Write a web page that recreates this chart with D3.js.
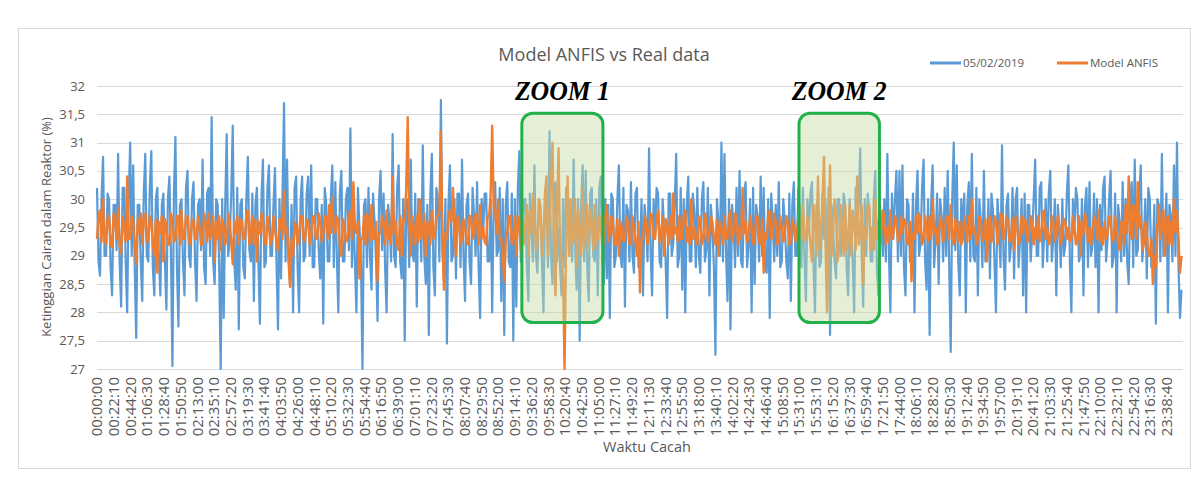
<!DOCTYPE html>
<html>
<head>
<meta charset="utf-8">
<script src="https://cdn.jsdelivr.net/npm/d3@7"></script>
<style>
  body { margin: 0; background: #fff; }
  text { font-family: "Open Sans", "Liberation Sans", sans-serif; fill: #595959; }
</style>
</head>
<body>
<div id="chart"></div>
<script>
// ===========================================================
// DATA (one sample every 120 s)
// ===========================================================
var sampleStep = 120;

var realData = [
    30.2, 28.9, 28.65, 30.0, 30.75, 29.0, 29.0, 30.1, 30.0, 28.8, 28.3, 29.9, 29.9, 29.1, 30.8, 28.9, 28.1, 30.2, 30.2, 28.9,
    28.0, 30.0, 31.0, 29.0, 30.6, 28.8, 27.55, 29.9, 29.9, 28.9, 28.2, 30.1, 30.8, 29.0, 28.9, 30.2, 30.85, 28.8, 28.3, 30.0,
    30.2, 29.0, 28.3, 29.9, 30.1, 28.9, 28.05, 30.0, 30.4, 29.1, 27.05, 30.1, 31.1, 28.8, 27.75, 29.9, 30.0, 28.9, 28.3, 30.2,
    30.5, 29.0, 28.8, 30.0, 30.3, 28.9, 28.2, 29.9, 30.0, 29.1, 30.7, 28.8, 28.5, 30.1, 30.2, 29.0, 31.45, 28.9, 28.5, 30.0,
    29.9, 28.8, 27.0, 30.0, 27.9, 29.9, 31.15, 29.0, 29.3, 30.1, 31.3, 28.9, 28.4, 30.2, 27.7, 29.9, 30.0, 28.8, 28.6, 30.0,
    30.75, 29.1, 28.9, 30.1, 28.2, 29.9, 30.2, 28.9, 27.8, 30.0, 30.7, 28.8, 28.9, 30.2, 30.6, 29.0, 29.0, 29.9, 30.55, 28.9,
    27.7, 30.0, 28.6, 30.1, 31.7, 28.9, 30.7, 29.0, 28.5, 29.9, 28.0, 30.2, 30.4, 28.8, 28.0, 30.0,
    30.4, 28.9, 29.0, 30.1, 30.4, 29.0, 30.6, 28.8, 28.8, 30.0, 30.0, 29.1, 28.6, 29.9, 27.8, 30.2, 29.9, 28.9, 28.9, 30.0,
    30.6, 28.8, 30.3, 29.0, 28.0, 30.1, 30.5, 28.9, 28.9, 30.0, 30.2, 29.1, 31.25, 28.8, 29.8, 28.9, 28.0, 30.2, 29.5, 28.9,
    27.0, 29.9, 30.0, 28.8, 30.2, 29.0, 28.4, 30.1, 29.6, 28.9, 27.85, 30.0, 30.5, 29.1, 30.1, 28.8, 28.0, 29.9, 29.6, 28.9,
    31.15, 29.0, 28.8, 30.2, 30.6, 28.9, 28.6, 30.0, 27.5, 29.9, 30.0, 28.8, 30.7, 29.1, 28.9, 30.1, 28.1, 30.0, 29.8, 28.9,
    30.95, 29.0, 28.5, 29.9, 27.6, 30.1, 30.8, 28.8, 28.3, 30.2, 30.0, 28.9, 31.75, 29.1, 28.6, 30.0, 27.45, 29.9, 30.6, 28.9,
    29.0, 30.0, 28.6, 30.1, 30.1, 28.8, 30.7, 29.0, 28.2, 29.9, 30.1, 28.9, 28.5, 30.2, 29.7, 29.0, 30.3, 28.8, 27.9, 30.0,
    29.4, 30.1, 30.1, 28.9, 28.9, 30.0, 28.0, 29.9, 30.3, 29.0, 29.1, 30.2, 28.2, 30.0, 27.6, 29.9, 30.3, 28.9, 28.8, 30.1,
    27.5, 30.0, 28.1, 30.2, 30.85, 28.9, 29.4, 30.0, 30.0, 28.8, 28.2, 30.1, 29.5, 28.9, 30.6, 29.0, 28.7, 30.0, 29.8, 28.9,
    28.0, 29.9, 30.0, 28.8, 31.2, 29.0, 28.5, 30.1, 30.3, 28.9, 29.5, 28.8, 28.3, 30.0, 28.8, 30.2, 30.2, 29.0, 29.6, 28.9,
    30.7, 29.1, 28.4, 30.0, 27.5, 29.9, 30.6, 28.9, 30.5, 28.8, 28.2, 30.1, 30.2, 29.0, 28.9, 30.0, 28.3, 30.2,
    30.4, 28.9, 28.5, 30.0, 28.6, 29.9, 27.9, 30.1, 30.0, 28.8, 29.0, 30.0, 30.6, 29.0, 28.8, 30.2, 28.1, 29.9, 29.8, 28.9,
    30.3, 29.0, 28.7, 30.1, 30.2, 28.8, 29.0, 30.0, 28.3, 29.9, 29.6, 28.9, 30.9, 29.1, 28.3, 30.0, 29.4, 30.2, 30.1, 28.9,
    28.8, 30.0, 29.5, 28.9, 27.9, 30.1, 30.1, 29.0, 29.2, 29.9, 30.8, 28.8, 29.0, 30.2, 28.4, 30.0, 28.0, 29.9, 30.4, 28.9,
    28.9, 30.1, 29.8, 28.8, 30.2, 29.0, 28.7, 30.0, 30.3, 28.9, 29.1, 30.2, 28.3, 29.9, 29.5, 28.8, 27.25, 30.0, 29.6, 29.0,
    31.0, 28.9, 30.8, 29.1, 28.2, 30.0, 27.7, 29.9, 29.6, 28.8, 30.2, 29.0, 30.5, 28.9, 28.8, 30.1, 30.3, 28.8, 29.2, 30.0,
    28.0, 30.2, 28.5, 29.9, 29.7, 28.9, 30.4, 29.0, 30.2, 28.8, 28.7, 30.0, 27.9, 30.1, 29.6, 28.9, 29.9, 29.0, 30.3, 28.8,
    28.9, 30.0, 29.6, 28.9, 28.6, 30.1, 28.2, 29.9, 30.3, 29.0, 29.0, 30.2, 29.8, 28.8, 30.2, 29.0, 28.2, 30.0, 29.4, 30.1,
    30.3, 28.9, 28.0, 29.9, 30.0, 28.8, 28.9, 30.1, 29.3, 30.0, 28.5, 30.2, 27.6, 29.9, 29.5, 28.9, 28.6, 30.0, 30.0, 29.0,
    29.2, 30.1, 29.9, 28.8, 28.3, 30.0, 29.5, 28.9, 28.0, 30.2, 29.4, 29.9, 30.9, 29.0, 28.1, 30.0, 29.0, 30.1, 29.8, 28.9,
    28.9, 30.0, 30.5, 28.8, 28.3, 29.9, 29.6, 29.0, 30.0, 28.9, 30.8, 29.1, 28.0, 30.1, 29.3, 30.0, 30.5, 28.9,
    30.5, 29.0, 30.6, 28.8, 28.3, 30.0, 29.9, 28.9, 29.0, 30.1, 28.0, 29.9, 30.5, 29.0, 29.2, 30.2, 30.7, 28.9, 28.4, 30.0,
    27.6, 29.9, 30.6, 28.8, 29.3, 30.1, 28.5, 30.0, 29.7, 28.9, 30.2, 29.0, 30.5, 28.8, 27.3, 30.0, 31.0, 29.1, 30.6, 28.9,
    28.3, 30.0, 29.4, 30.1, 28.0, 29.9, 30.3, 28.9, 30.8, 29.0, 28.9, 30.2, 28.3, 30.0, 29.6, 28.8, 30.5, 28.9, 29.0, 30.0,
    28.6, 30.1, 29.8, 28.9, 28.0, 30.0, 29.5, 28.8, 30.95, 29.0, 28.4, 29.9, 30.1, 28.9, 29.2, 30.2, 28.6, 30.0, 30.2, 28.8,
    29.3, 30.0, 28.3, 30.1, 28.0, 29.9, 29.9, 28.9, 29.4, 30.0, 30.7, 29.0, 29.0, 30.2, 30.3, 28.8, 29.4, 30.0, 28.9, 30.1,
    30.5, 28.9, 29.3, 30.0, 28.3, 29.9, 29.5, 28.8, 30.0, 29.0, 29.2, 30.1, 30.6, 28.9, 28.0, 30.0, 29.4, 30.2, 30.0, 28.9,
    29.0, 30.0, 28.3, 29.9, 30.2, 28.8, 30.3, 29.0, 29.2, 30.1, 28.8, 30.0, 28.0, 29.9, 29.1, 30.2, 30.4, 28.9, 29.3, 30.0,
    30.5, 28.8, 29.0, 30.1, 28.0, 29.9, 29.6, 28.9, 30.3, 29.0, 30.0, 28.9, 28.5, 30.0, 30.3, 28.8, 30.7, 29.0, 29.1, 30.1,
    30.6, 28.9, 29.3, 30.0, 28.6, 30.2, 30.0, 28.8, 29.0, 29.9, 27.8, 30.0, 29.9, 28.9, 30.8, 29.0, 29.4, 30.1, 28.0, 29.9,
    29.7, 28.9, 30.6, 29.0, 31.0, 28.8, 27.9, 28.4
];

var anfisData = [
    29.3, 29.7, 29.8, 29.25, 30.0, 29.3, 29.2, 29.65, 29.7, 29.2, 29.15, 29.75, 29.6, 29.3, 29.85, 29.2, 29.05, 29.7, 29.5, 29.25,
    30.4, 29.3, 29.3, 29.7, 29.6, 29.2, 28.85, 29.65, 29.4, 29.75, 29.2, 29.7, 29.75, 29.25, 29.3, 29.7, 29.6, 29.2, 29.0, 29.65,
    28.7, 29.6, 29.4, 29.7, 28.9, 29.65, 29.5, 29.2, 29.2, 29.75, 29.6, 29.25, 29.3, 29.7, 29.7, 29.2, 29.8, 29.3, 29.3, 29.7,
    29.7, 29.25, 29.2, 29.65, 29.6, 29.3, 29.3, 29.7, 29.5, 29.2, 29.2, 29.75, 29.6, 29.25, 29.75, 29.3, 29.4, 29.7, 28.9, 29.6,
    29.3, 29.7, 29.1, 29.65, 29.5, 29.2, 29.3, 29.75, 29.6, 29.25, 28.85, 29.6, 29.4, 29.7, 29.2, 29.65, 29.6, 29.3, 29.3, 29.7,
    29.8, 29.2, 29.4, 29.7, 29.2, 29.65, 28.9, 29.6, 29.4, 29.75, 29.6, 29.25, 29.2, 29.7, 29.5, 29.2, 29.3, 29.7, 29.45, 29.25,
    29.1, 29.65, 29.6, 29.3, 30.15, 29.4, 29.5, 28.9, 28.45, 29.3, 29.0, 29.6, 29.5, 29.2, 29.4, 29.7,
    29.7, 29.25, 29.3, 29.65, 29.6, 29.2, 29.35, 29.7, 29.7, 29.3, 29.3, 29.75, 29.6, 29.25, 29.4, 29.7, 29.7, 29.3, 29.9, 29.4,
    30.05, 29.5, 29.4, 29.7, 29.6, 29.2, 29.0, 29.65, 29.5, 29.25, 29.3, 29.7, 29.8, 29.3, 30.3, 29.5, 29.4, 29.6, 28.6, 29.3,
    29.3, 29.7, 29.2, 29.75, 29.6, 29.25, 29.9, 29.3, 29.3, 29.6, 28.55, 29.4, 29.4, 29.7, 29.6, 29.2, 29.8, 29.3, 29.5, 29.2,
    30.4, 29.4, 29.6, 29.2, 29.1, 29.7, 29.0, 29.65, 29.6, 30.2, 31.45, 29.6, 29.0, 29.7, 29.5, 29.2, 29.7, 29.25, 30.0, 29.3,
    29.4, 29.75, 29.0, 29.6, 29.5, 29.2, 29.8, 29.3, 29.4, 29.7, 29.7, 29.8, 31.2, 29.3, 28.4, 29.4, 29.3, 29.7, 29.8, 29.6,
    30.2, 29.4, 29.0, 29.7, 29.6, 29.2, 29.3, 29.65, 29.5, 29.25, 29.2, 29.7, 29.7, 29.3, 29.4, 29.75, 29.6, 29.2, 29.9, 29.3,
    29.5, 29.25, 29.2, 29.7, 29.7, 30.1, 31.3, 29.9, 29.8, 29.4, 30.0, 29.3, 29.3, 29.0, 28.55, 29.3, 29.4, 29.7, 29.7, 29.2,
    29.3, 29.7, 29.0, 29.7, 29.6, 29.1, 30.0, 29.2, 29.5, 29.9, 29.0, 29.8, 29.4, 30.1, 29.7, 29.1, 29.3, 30.0, 29.9, 29.0,
    29.4, 30.1, 30.4, 29.0, 29.6, 30.3, 31.0, 29.2, 28.3, 29.8, 30.9, 29.1, 29.0, 28.6, 27.0, 29.3, 30.4, 29.0, 30.0, 29.2,
    29.3, 30.0, 28.8, 29.8, 29.5, 29.0, 30.2, 29.1, 29.4, 29.9, 29.2, 29.8, 29.6, 29.1, 29.9, 29.2, 29.3, 29.7,
    29.5, 29.2, 29.2, 29.7, 29.9, 29.25, 29.4, 29.7, 29.6, 29.2, 29.2, 29.65, 29.0, 29.6, 29.5, 29.25, 29.3, 29.7, 29.6, 29.2,
    29.2, 29.7, 29.5, 29.25, 29.0, 29.6, 28.35, 29.3, 29.3, 29.7, 29.6, 29.2, 29.4, 29.75, 29.7, 29.3, 29.3, 29.65, 29.8, 29.25,
    29.4, 29.7, 29.0, 29.65, 29.5, 29.2, 29.7, 29.3, 30.1, 29.4, 29.5, 29.25, 29.7, 29.3, 29.3, 29.7, 29.8, 29.25, 29.5, 29.2,
    30.0, 29.3, 29.5, 29.25, 29.2, 29.7, 29.6, 29.2, 29.3, 29.75, 29.6, 29.25, 29.4, 29.7, 29.6, 29.3, 29.2, 29.65, 29.0, 29.6,
    29.5, 29.2, 29.7, 29.3, 29.3, 29.7, 29.8, 29.25, 29.4, 29.75, 29.7, 29.2, 29.5, 29.3, 30.2, 29.4, 29.6, 29.25, 29.3, 29.7,
    29.5, 29.2, 29.3, 29.7, 29.7, 29.25, 29.2, 29.65, 28.7, 29.4, 29.3, 29.7, 29.8, 29.3, 29.4, 29.75, 29.6, 29.2, 29.3, 29.7,
    29.5, 29.25, 29.4, 29.7, 29.6, 29.2, 29.3, 29.65, 29.5, 29.25, 29.4, 29.7, 29.7, 29.3, 29.9, 29.25, 29.3, 29.7, 29.5, 29.2,
    28.9, 29.9, 29.6, 29.0, 30.4, 29.1, 29.5, 30.0, 30.75, 29.2, 28.0, 29.4, 30.6, 29.0, 29.4, 30.0, 29.7, 28.9, 29.1, 29.9,
    29.5, 29.0, 29.9, 29.1, 29.3, 29.9, 29.0, 29.8, 29.6, 29.1, 30.4, 29.2, 29.4, 29.9, 28.5, 29.5, 29.3, 29.9, 29.9, 29.1,
    29.5, 29.1, 30.0, 29.3, 29.6, 29.2, 29.4, 29.8, 29.7, 29.2, 29.5, 29.25, 29.8, 29.3, 29.4, 29.7, 29.6, 29.25,
    29.3, 29.7, 29.4, 29.65, 29.6, 29.25, 29.2, 29.6, 28.55, 29.4, 29.3, 29.7, 29.4, 29.75, 29.6, 29.2, 29.3, 29.7, 29.5, 29.25,
    29.7, 29.3, 30.0, 29.4, 29.5, 29.2, 29.3, 29.7, 29.6, 29.25, 29.4, 29.7, 29.7, 29.3, 29.9, 29.4, 29.2, 29.65, 29.5, 29.25,
    29.6, 29.2, 29.3, 29.7, 29.5, 29.25, 29.7, 29.3, 30.0, 29.4, 29.5, 29.2, 29.3, 29.7, 29.6, 29.25, 29.3, 29.65, 28.9, 29.5,
    29.7, 29.25, 29.4, 29.7, 29.6, 29.2, 29.4, 29.75, 29.7, 29.3, 29.4, 29.7, 29.6, 29.25, 29.3, 29.65, 29.1, 29.7, 29.5, 29.2,
    29.3, 29.7, 29.4, 29.65, 29.6, 29.25, 29.4, 29.7, 29.6, 29.2, 29.5, 29.3, 29.7, 29.25, 29.4, 29.75, 29.8, 29.3, 29.5, 29.2,
    29.3, 29.7, 29.6, 29.25, 29.4, 29.7, 29.5, 29.2, 29.4, 29.65, 29.6, 29.3, 29.5, 29.25, 29.3, 29.7, 29.5, 29.2, 29.3, 29.7,
    29.0, 29.6, 29.4, 29.75, 29.6, 29.25, 29.5, 29.2, 29.4, 29.7, 29.6, 29.3, 29.8, 29.25, 29.5, 29.2, 29.6, 29.3, 29.4, 29.7,
    29.6, 29.25, 29.3, 29.7, 29.5, 29.2, 29.1, 29.6, 29.6, 29.2, 29.9, 29.4, 30.4, 29.5, 29.3, 29.9, 29.8, 29.3, 30.3, 29.5,
    29.7, 29.1, 29.2, 29.6, 29.4, 29.0, 29.0, 29.3, 28.5, 29.0, 28.8, 29.5, 29.9, 29.3, 29.5, 29.8, 29.0, 29.6, 29.7, 29.2,
    29.6, 29.2, 30.0, 29.4, 29.8, 29.3, 28.7, 29.0
];

var tickLabels = [
    "00:00:00", "00:22:10", "00:44:20", "01:06:30", "01:28:40", "01:50:50", "02:13:00", "02:35:10",
    "02:57:20", "03:19:30", "03:41:40", "04:03:50", "04:26:00", "04:48:10", "05:10:20", "05:32:30",
    "05:54:40", "06:16:50", "06:39:00", "07:01:10", "07:23:20", "07:45:30", "08:07:40", "08:29:50",
    "08:52:00", "09:14:10", "09:36:20", "09:58:30", "10:20:40", "10:42:50", "11:05:00", "11:27:10",
    "11:49:20", "12:11:30", "12:33:40", "12:55:50", "13:18:00", "13:40:10", "14:02:20", "14:24:30",
    "14:46:40", "15:08:50", "15:31:00", "15:53:10", "16:15:20", "16:37:30", "16:59:40", "17:21:50",
    "17:44:00", "18:06:10", "18:28:20", "18:50:30", "19:12:40", "19:34:50", "19:57:00", "20:19:10",
    "20:41:20", "21:03:30", "21:25:40", "21:47:50", "22:10:00", "22:32:10", "22:54:20", "23:16:30",
    "23:38:40"
];

var yTicks = [27, 27.5, 28, 28.5, 29, 29.5, 30, 30.5, 31, 31.5, 32];

var seriesNames = ["05/02/2019", "Model ANFIS"];
var seriesColors = ["#5b9bd5", "#ed7d31"];

// zoom windows: [start time, end time] in seconds, value band
var zoomBoxes = [
    { label: "ZOOM 1", t0: 33800, t1: 40250 },
    { label: "ZOOM 2", t0: 55850, t1: 62250 }
];
var zoomLow = 27.82;
var zoomHigh = 31.52;

// ===========================================================
// SET MARGINS
// ===========================================================
var svgWidth = 1202;
var svgHeight = 485;

var margin = { top: 86, right: 19, bottom: 116, left: 97 };
var width = svgWidth - margin.left - margin.right;
var height = svgHeight - margin.top - margin.bottom;

var svg = d3.select('#chart')
    .append('svg')
    .attr('width', svgWidth)
    .attr('height', svgHeight);

// chart frame
svg.append('rect')
    .attr('x', 18.5).attr('y', 28.5)
    .attr('width', 1172).attr('height', 440)
    .attr('fill', '#fff')
    .attr('stroke', '#d9d9d9');

var chartGroup = svg.append('g')
    .attr('transform', `translate(${margin.left}, ${margin.top})`);

// ===========================================================
// SCALES
// ===========================================================
function toSeconds(s) {
    var p = s.split(':').map(Number);
    return p[0] * 3600 + p[1] * 60 + p[2];
}

var x = d3.scaleLinear()
    .domain([0, 86400])
    .range([0, width]);

var y = d3.scaleLinear()
    .domain([27, 32])
    .range([height, 0]);

// gridlines
chartGroup.append('g')
    .selectAll('line')
    .data(yTicks)
    .enter()
    .append('line')
    .attr('x1', 0)
    .attr('x2', width)
    .attr('y1', d => Math.round(y(d)) + 0.5)
    .attr('y2', d => Math.round(y(d)) + 0.5)
    .attr('stroke', '#d9d9d9')
    .attr('stroke-width', 1);

// y tick labels
chartGroup.append('g')
    .selectAll('text')
    .data(yTicks)
    .enter()
    .append('text')
    .attr('x', -12)
    .attr('y', d => y(d))
    .attr('dy', '0.35em')
    .attr('text-anchor', 'end')
    .style('font-size', '13px')
    .text(d => String(d).replace('.', ','));

// x tick labels
chartGroup.append('g')
    .selectAll('text')
    .data(tickLabels)
    .enter()
    .append('text')
    .attr('text-anchor', 'end')
    .attr('dy', '0.35em')
    .attr('transform', d => `translate(${x(toSeconds(d))}, ${height + 8}) rotate(-90)`)
    .style('font-size', '15px')
    .text(d => d);

// ===========================================================
// LINES
// ===========================================================
var line = d3.line()
    .x((d, i) => x(i * sampleStep))
    .y(d => y(d));

var widths = [2.2, 2.4];
[realData, anfisData].forEach(function(series, k) {
    chartGroup.append('path')
        .datum(series)
        .attr('fill', 'none')
        .attr('stroke', seriesColors[k])
        .attr('stroke-width', widths[k])
        .attr('stroke-linejoin', 'round')
        .attr('d', line);
});

// ===========================================================
// ZOOM BOXES
// ===========================================================
zoomBoxes.forEach(function(b) {
    chartGroup.append('rect')
        .attr('x', x(b.t0))
        .attr('y', y(zoomHigh))
        .attr('width', x(b.t1) - x(b.t0))
        .attr('height', y(zoomLow) - y(zoomHigh))
        .attr('rx', 11).attr('ry', 11)
        .attr('fill', '#c5dba3')
        .attr('fill-opacity', 0.45)
        .attr('stroke', '#22b04b')
        .attr('stroke-width', 3);

    chartGroup.append('text')
        .attr('x', (x(b.t0) + x(b.t1)) / 2)
        .attr('y', y(zoomHigh) - 13)
        .attr('text-anchor', 'middle')
        .attr('textLength', 95)
        .attr('lengthAdjust', 'spacingAndGlyphs')
        .style('font-family', '"Liberation Serif", "DejaVu Serif", serif')
        .style('font-weight', 'bold')
        .style('font-style', 'italic')
        .style('font-size', '28px')
        .style('fill', '#000')
        .text(b.label);
});

// ===========================================================
// TITLE, AXIS TITLES & LEGEND
// ===========================================================
svg.append('text')
    .attr('x', 604)
    .attr('y', 61)
    .attr('text-anchor', 'middle')
    .style('font-size', '18px')
    .text("Model ANFIS vs Real data");

svg.append('text')
    .attr('transform', 'translate(51, 227) rotate(-90)')
    .attr('text-anchor', 'middle')
    .style('font-size', '13px')
    .text("Ketinggian Cairan dalam Reaktor (%)");

svg.append('text')
    .attr('x', 647)
    .attr('y', 452)
    .attr('text-anchor', 'middle')
    .style('font-size', '14.5px')
    .text("Waktu Cacah");

var legendX = [930, 1057];
seriesNames.forEach(function(name, k) {
    svg.append('line')
        .attr('x1', legendX[k]).attr('x2', legendX[k] + 31)
        .attr('y1', 63).attr('y2', 63)
        .attr('stroke', seriesColors[k])
        .attr('stroke-width', 3);
    svg.append('text')
        .attr('x', legendX[k] + 33)
        .attr('y', 63)
        .attr('dy', '0.35em')
        .style('font-size', '11.5px')
        .text(name);
});
</script>
</body>
</html>
